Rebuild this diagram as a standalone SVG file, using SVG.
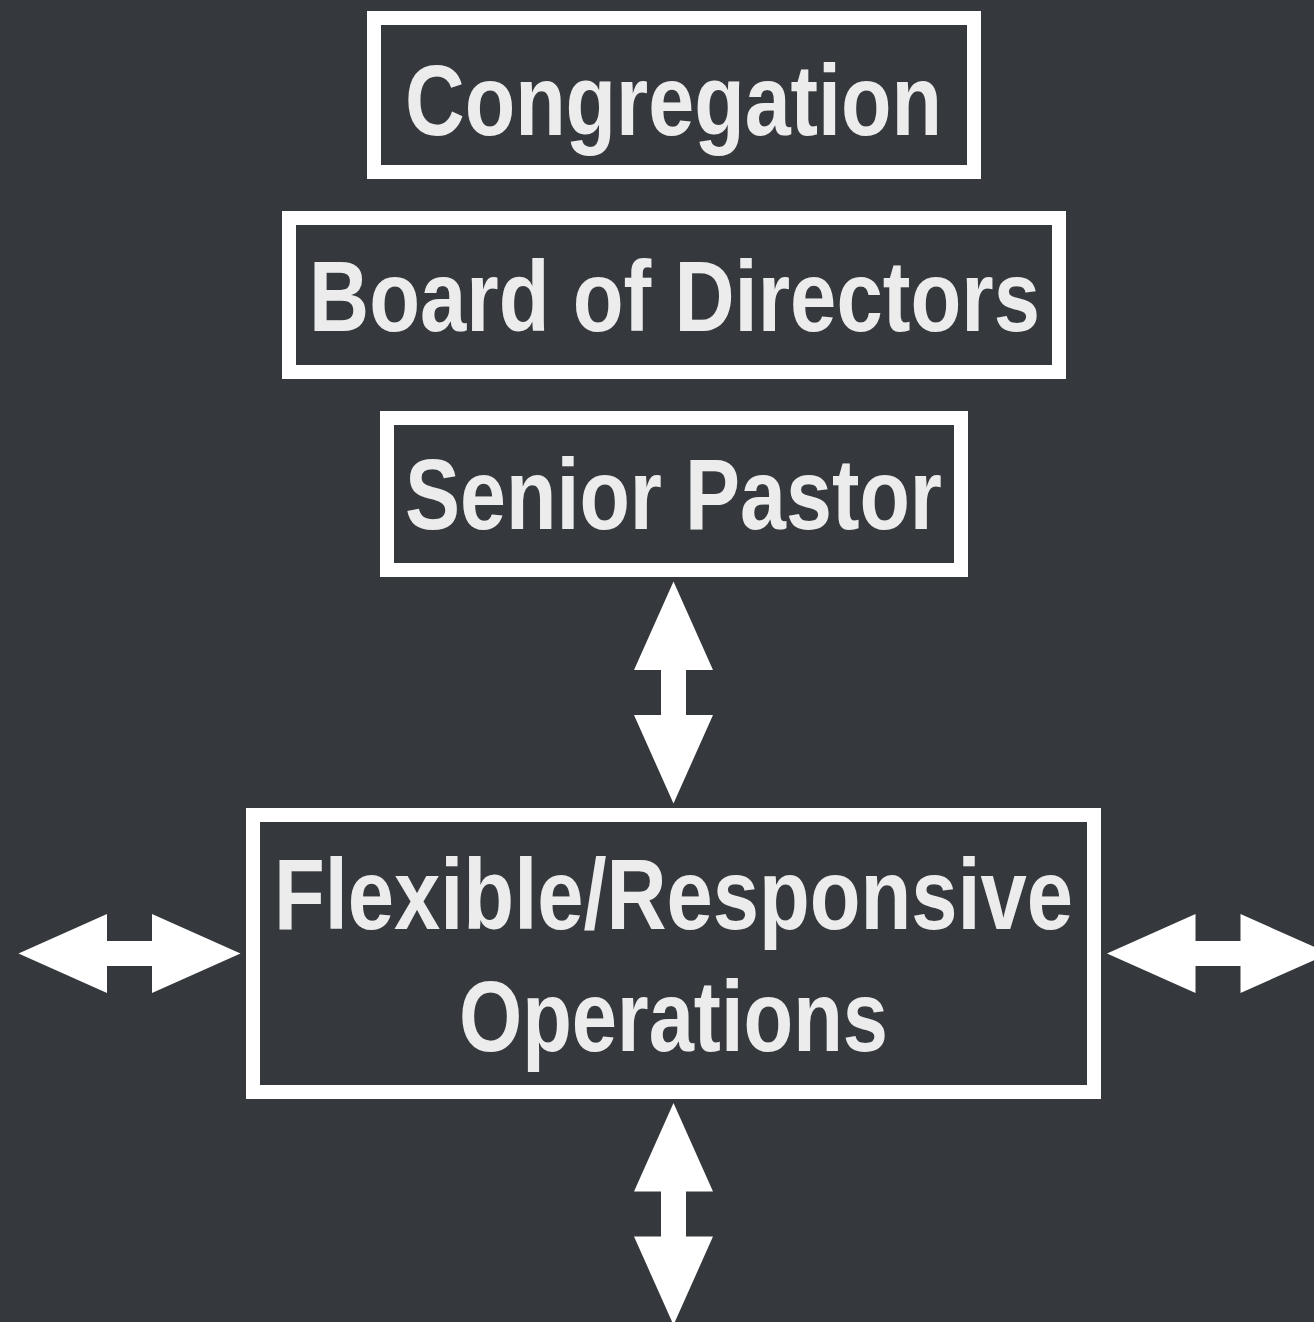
<svg xmlns="http://www.w3.org/2000/svg" width="1314" height="1322" viewBox="0 0 1314 1322">
  <style>
    .box { fill: none; stroke: #ffffff; stroke-width: 14; }
    .lbl { font-family: "Liberation Sans", Arial, sans-serif; font-weight: bold; font-size: 101px; fill: #ececec; }
    .arrow { fill: #ffffff; }
  </style>
  <defs>
    <path id="dbl" d="M0,-111 L39.5,-22.5 L12.5,-22.5 L12.5,22.5 L39.5,22.5 L0,111 L-39.5,22.5 L-12.5,22.5 L-12.5,-22.5 L-39.5,-22.5 Z"/>
  </defs>
  <rect x="0" y="0" width="1314" height="1322" fill="#35393d"/>

  <g id="congregation">
    <rect class="box" x="374" y="18" width="600" height="154"/>
    <text class="lbl" x="405" y="135" textLength="537" lengthAdjust="spacingAndGlyphs">Congregation</text>
  </g>
  <g id="board">
    <rect class="box" x="289" y="218" width="770" height="154"/>
    <text class="lbl" x="309" y="331" textLength="731" lengthAdjust="spacingAndGlyphs">Board of Directors</text>
  </g>
  <g id="pastor">
    <rect class="box" x="387" y="418" width="574" height="152"/>
    <text class="lbl" x="405" y="529" textLength="537" lengthAdjust="spacingAndGlyphs">Senior Pastor</text>
  </g>
  <g id="operations">
    <rect class="box" x="253" y="815" width="841" height="277"/>
    <text class="lbl" x="274" y="929" textLength="799" lengthAdjust="spacingAndGlyphs">Flexible/Responsive</text>
    <text class="lbl" x="459" y="1051" textLength="429" lengthAdjust="spacingAndGlyphs">Operations</text>
  </g>

  <g id="connectors" class="arrow">
    <use href="#dbl" transform="translate(673.5,692.5)"/>
    <use href="#dbl" transform="translate(673.5,1214)"/>
    <use href="#dbl" transform="translate(129.5,953.5) rotate(90)"/>
    <use href="#dbl" transform="translate(1218,953.5) rotate(90)"/>
  </g>
</svg>
